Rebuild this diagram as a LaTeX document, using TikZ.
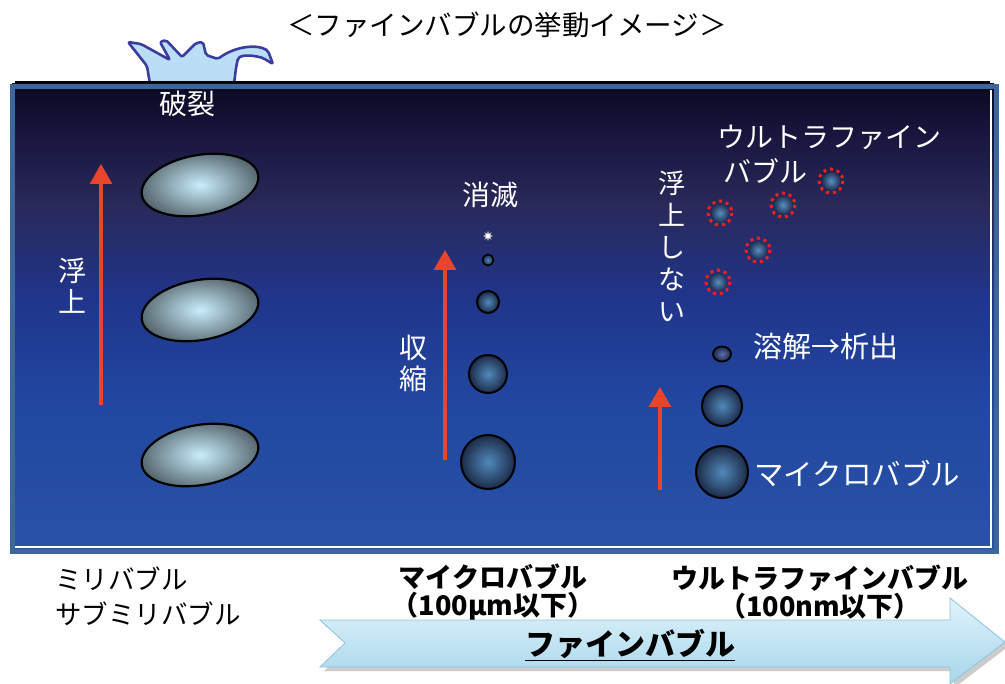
\documentclass[tikz,border=0pt]{standalone}
\usepackage{fontspec}
\setmainfont{Noto Sans CJK JP}
\usetikzlibrary{arrows.meta,shapes.geometric}

\definecolor{wtop}{HTML}{0B0920}
\definecolor{wtopb}{HTML}{17153C}
\definecolor{wupper}{HTML}{29295A}
\definecolor{wmid}{HTML}{20358A}
\definecolor{wlow}{HTML}{2147A0}
\definecolor{wbot}{HTML}{2A52A6}
\definecolor{frameblue}{HTML}{3D679B}
\definecolor{splashfill}{HTML}{B9DEF5}
\definecolor{splashline}{HTML}{3C3CA0}
\definecolor{risered}{HTML}{E8452C}
\definecolor{millin}{HTML}{C8EEFB}
\definecolor{millout}{HTML}{56666E}
\definecolor{microin}{HTML}{5089BB}
\definecolor{microout}{HTML}{1C2A48}
\definecolor{ufin}{HTML}{5A8EC0}
\definecolor{ufout}{HTML}{1E2E52}
\definecolor{dotred}{HTML}{F02020}
\definecolor{bandtop}{HTML}{E0F3FB}
\definecolor{bandbot}{HTML}{A6D6EA}
\definecolor{bandline}{HTML}{8CC4DC}

% water column: dark at the surface, brighter blue towards the bottom
\pgfdeclareverticalshading{water}{100bp}{%
  color(0bp)=(wbot); color(25bp)=(wbot); color(41bp)=(wlow);
  color(52bp)=(wmid); color(62bp)=(wupper); color(70bp)=(wtopb);
  color(75bp)=(wtop); color(100bp)=(wtop)}

\tikzset{
  wlabel/.style={text=white, font=\fontsize{28}{31}\selectfont, inner sep=0pt},
  blabel/.style={text=black, font=\fontsize{26.5}{35}\selectfont, inner sep=0pt},
  bblabel/.style={text=black, font=\bfseries\fontsize{27}{28}\selectfont, inner sep=0pt},
  rise/.style={draw=risered, line width=3.2pt,
    -{Triangle[length=20pt,width=22pt]}},
  millibub/.style={ellipse, draw=black, line width=2.2pt, inner sep=0pt,
    minimum width=118pt, minimum height=60pt, rotate=10,
    inner color=millin, outer color=millout},
  microbub/.style={circle, draw=black, line width=2pt, inner sep=0pt,
    inner color=microin, outer color=microout},
  ufbub/.style={circle, inner sep=0pt, minimum size=19pt,
    inner color=ufin, outer color=ufout},
  ufring/.style={draw=dotred, line width=3pt, dash pattern=on 3pt off 3.9pt},
}

\begin{document}
\begin{tikzpicture}[x=1pt,y=-1pt]
\useasboundingbox (0,0) rectangle (1005,684);

% title
\node[text=black, font=\fontsize{27.5}{30}\selectfont, inner sep=0pt] (title) at (507,25)
  {＜ファインバブルの挙動イメージ＞};

% splash at the surface
\draw[fill=splashfill, draw=splashline, line width=2.6pt, line join=round, rounded corners=2pt]
  (150,84) -- (147,66) -- (128,42) -- (141,44) -- (170,60) -- (160,42) -- (166,40)
  -- (182,57) -- (196,43) -- (203,42) -- (206,55) -- (218,59)
  .. controls (235,46) and (258,44) .. (268,51) -- (273,64) -- (263,58)
  .. controls (252,55) and (243,55) .. (238,58) -- (236,68) -- (234,84) -- cycle;

% water column
\fill[shading=water] (12,84) rectangle (994,550);
\draw[draw=frameblue, line width=5pt] (12,87) rectangle (996,552);
\draw[white, line width=1.4pt] (15,547) -- (991,547) -- (991,90);
\draw[black, line width=2.5pt] (15,82) -- (990,82);

% ---- milli / sub-milli bubbles ----
\node[millibub] (m1) at (200,185) {};
\node[millibub] (m2) at (200,310) {};
\node[millibub] (m3) at (200,455) {};
\coordinate (a1s) at (101,405);
\coordinate (a1e) at (101,164);
\draw[rise] (a1s) -- (a1e);
\node[wlabel, align=center] (lfloat) at (72,286) {浮\\上};
\node[wlabel] (burst) at (187,104) {破裂};

% ---- micro bubbles ----
\node[microbub, minimum size=54pt] (c1) at (488,462) {};
\node[microbub, minimum size=38pt] (c2) at (488,374) {};
\node[microbub, minimum size=22pt] (c3) at (488,302) {};
\node[microbub, minimum size=11pt, line width=1.6pt] (c4) at (488,260) {};
\node[star, star points=8, star point ratio=2.2, minimum size=9pt, inner sep=0pt,
      fill=white, draw=gray!60, line width=0.4pt] (c5) at (488,236) {};
\coordinate (a2s) at (445,460);
\coordinate (a2e) at (445,250);
\draw[rise] (a2s) -- (a2e);
\node[wlabel, align=center] (shrink) at (413,363) {収\\縮};
\node[wlabel] (vanish) at (490,195) {消滅};

% ---- ultrafine bubbles ----
\node[microbub, minimum size=52pt] (r1) at (722,472) {};
\node[microbub, minimum size=40pt] (r2) at (722,406) {};
\node[ellipse, draw=black, line width=1.8pt, inner sep=0pt,
      minimum width=18pt, minimum height=15pt,
      inner color=microin!80!violet, outer color=microout] (r3) at (722,354) {};
\coordinate (a3s) at (660,490);
\coordinate (a3e) at (660,387);
\draw[rise] (a3s) -- (a3e);

\foreach \n/\p in {u1/{(720,213)}, u2/{(783,205)}, u3/{(831,181)}, u4/{(758,250)}, u5/{(718,282)}}{
  \node[ufbub] (\n) at \p {};
  \draw[ufring] (\n.center) circle[radius=12];
}

\node[wlabel, align=center, font=\fontsize{27}{32}\selectfont] (nofloat) at (672,246) {浮\\上\\し\\な\\い};
\node[wlabel] (uflabel1) at (829,137) {ウルトラファイン};
\node[wlabel] (uflabel2) at (765,171) {バブル};
\node[wlabel, anchor=west, font=\fontsize{29}{31}\selectfont] (dissolve) at (753,346) {溶解→析出};
\node[wlabel, anchor=west, font=\fontsize{29.5}{31}\selectfont] (mblabel) at (754,474) {マイクロバブル};

% ---- captions below ----
\node[blabel, anchor=north west, align=left] (milli) at (55,567) {ミリバブル\\サブミリバブル};
\node[bblabel, align=center] (microcap) at (493,592) {マイクロバブル\\（100µm以下）};
\node[bblabel, align=center] (ufcap) at (820,592) {ウルトラファインバブル\\（100nm以下）};

% fine bubble range arrow
\path[fill=gray, opacity=0.4]
  (324,624) -- (954,624) -- (954,602) -- (1009,646) -- (954,688) -- (954,671)
  -- (324,671) -- (349,646) -- cycle;
\path[draw=bandline, line width=0.8pt, top color=bandtop, bottom color=bandbot]
  (320,620) -- (950,620) -- (950,598) -- (1005,642) -- (950,684) -- (950,667)
  -- (320,667) -- (345,643) -- cycle;
\node[text=black, font=\bfseries\fontsize{30}{32}\selectfont, inner sep=0pt] (finecap)
  at (630,645) {\underline{ファインバブル}};
\end{tikzpicture}
\end{document}
